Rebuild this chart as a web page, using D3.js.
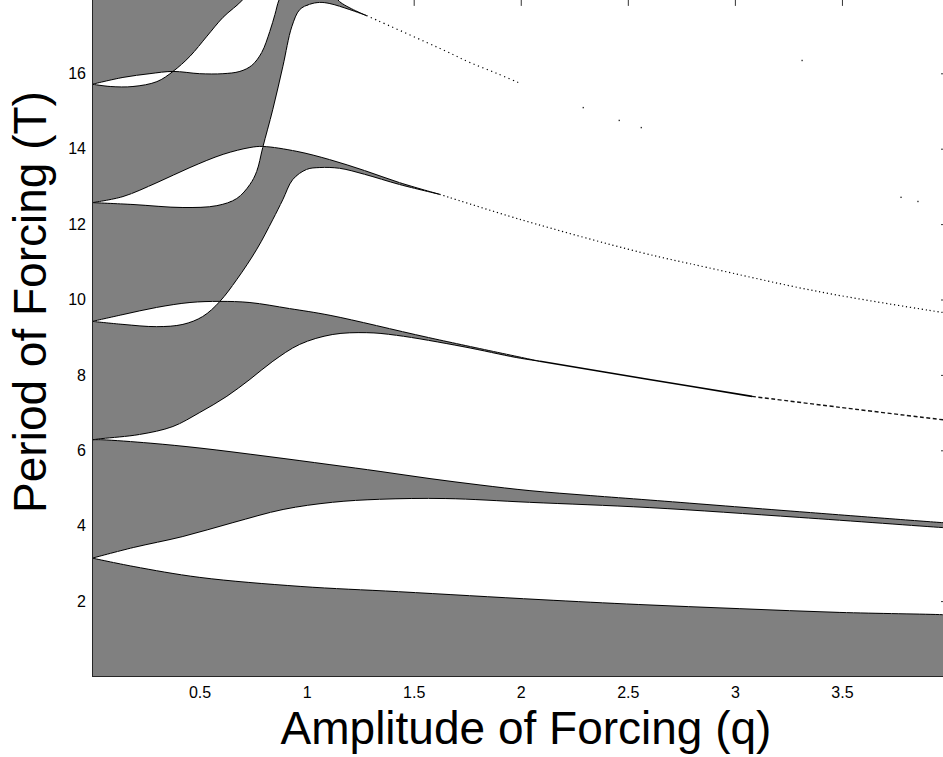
<!DOCTYPE html>
<html>
<head>
<meta charset="utf-8">
<script src="https://cdn.jsdelivr.net/npm/d3@7"></script>
<style>
  body { margin: 0; background: #fff; }
  text { font-family: "Liberation Sans", Arial, sans-serif; fill: #000; }
</style>
</head>
<body>
<div id="chart"></div>
<script>
// tick values
const xTicks = [0.5, 1, 1.5, 2, 2.5, 3, 3.5];
const yTicks = [2, 4, 6, 8, 10, 12, 14, 16];

// tongue boundaries, [q, T]
const tongue1Lower = [[0, 3.14], [0.19, 2.92], [0.50, 2.63], [0.97, 2.39], [1.43, 2.25], [2.09, 2.04],
  [2.55, 1.91], [3.02, 1.80], [3.49, 1.70], [3.97, 1.64], [4.0, 1.63]];
const tongue1Upper = [[0, 3.14], [0.19, 3.42], [0.42, 3.71], [0.655, 4.08], [0.89, 4.43], [1.12, 4.62],
  [1.34, 4.70], [1.65, 4.72], [2.04, 4.62], [2.60, 4.48], [3.30, 4.22], [3.97, 3.95], [4.0, 3.94]];

const tongue2Lower = [[0, 6.28], [0.044, 6.28], [0.269, 6.19], [0.502, 6.06], [0.815, 5.84], [1.109, 5.62],
  [1.343, 5.44], [1.576, 5.25], [1.81, 5.08], [2.043, 4.93], [2.324, 4.80], [2.604, 4.68], [3.258, 4.39],
  [3.972, 4.08], [4.0, 4.07]];
const tongue2Upper = [[0, 6.28], [0.044, 6.31], [0.22, 6.42], [0.375, 6.63], [0.50, 7.00], [0.627, 7.43],
  [0.735, 7.88], [0.842, 8.36], [0.968, 8.81], [1.12, 9.07], [1.28, 9.12], [1.42, 9.05], [1.73, 8.75],
  [1.98, 8.46], [2.09, 8.36]];

const tongue3Upper = [[0, 9.42], [0.142, 9.60], [0.30, 9.79], [0.455, 9.92], [0.595, 9.95], [0.735, 9.92],
  [0.92, 9.76], [1.11, 9.58], [1.57, 8.99], [2.09, 8.36]];
const tongue3Lower = [[0, 9.42], [0.142, 9.34], [0.30, 9.28], [0.422, 9.34], [0.515, 9.55], [0.595, 9.95],
  [0.674, 10.53], [0.767, 11.33], [0.842, 12.12], [0.889, 12.65], [0.935, 13.18], [1.0, 13.45],
  [1.061, 13.50], [1.154, 13.48], [1.271, 13.32], [1.434, 13.05], [1.621, 12.79]];

const tongue4Upper = [[0, 12.57], [0.142, 12.73], [0.301, 13.10], [0.455, 13.50], [0.61, 13.85],
  [0.735, 14.03], [0.795, 14.06], [0.954, 13.93], [1.108, 13.71], [1.271, 13.42], [1.434, 13.10],
  [1.621, 12.79]];
const tongue4Lower = [[0, 12.57], [0.189, 12.52], [0.422, 12.44], [0.581, 12.49], [0.674, 12.68],
  [0.735, 13.05], [0.767, 13.40], [0.795, 14.03], [0.842, 15.04], [0.889, 16.18], [0.931, 17.24],
  [0.968, 17.69], [1.014, 17.83], [1.061, 17.88], [1.108, 17.85], [1.201, 17.69], [1.280, 17.53]];

const tongue5Lower = [[0, 15.71], [0.084, 15.65], [0.189, 15.65], [0.301, 15.78], [0.376, 16.05],
  [0.455, 16.45], [0.534, 16.98], [0.609, 17.48], [0.703, 17.96], [0.74, 18.3]];
const tongue5Upper = [[0, 15.71], [0.142, 15.89], [0.268, 15.99], [0.376, 16.05], [0.501, 15.99],
  [0.609, 15.99], [0.688, 16.05], [0.744, 16.21], [0.79, 16.55], [0.828, 17.11], [0.852, 17.56],
  [0.872, 17.96], [0.92, 18.45], [1.0, 18.6], [1.09, 18.35], [1.154, 17.90], [1.280, 17.53]];

// thin stable bands, too narrow to fill
const ridge2 = [[2.09, 8.36], [2.60, 7.88], [3.08, 7.43], [3.49, 7.14], [4.0, 6.79]];
const ridge2DashFrom = 3.08;
const ridgeA = [[1.621, 12.79], [2.00, 12.12], [2.56, 11.25], [2.87, 10.85], [3.39, 10.21], [3.91, 9.71], [4.0, 9.63]];
const ridgeB = [[1.280, 17.53], [1.653, 16.58], [1.761, 16.29], [1.887, 16.0], [1.999, 15.73]];
const ridgeBDots = [[2.292, 15.09], [2.460, 14.75], [2.563, 14.56], [3.776, 12.71], [3.855, 12.60]];
const strayDots = [[3.314, 16.34]];

const W = 943, H = 757;
const x = d3.scaleLinear().domain([0, 4]).range([92.5, 949]);
const y = d3.scaleLinear().domain([0, 18]).range([676.5, -2.1]);

const svg = d3.select("#chart").append("svg")
  .attr("width", W)
  .attr("height", H);
const defs = svg.append("defs");

const plotRect = sel => sel
  .attr("x", x(0))
  .attr("y", y(18))
  .attr("width", x(4) - x(0))
  .attr("height", y(0) - y(18));

defs.append("clipPath").attr("id", "plot-clip").append("rect").call(plotRect);

const line = d3.line()
  .x(d => x(d[0]))
  .y(d => y(d[1]))
  .curve(d3.curveCatmullRom.alpha(0.5));

const end = a => a[a.length - 1][1];

// closed outline of one unstable tongue: first edge forward, straight corners off the plot, second edge back
function tonguePath(a, corners, b) {
  return line(a) +
    corners.map(p => "L" + x(p[0]) + "," + y(p[1])).join("") +
    line(b.slice().reverse()).replace(/^M/, "L") + "Z";
}

const tail2 = ridge2.slice(1);
const tailA = ridgeA.slice(1);
const tailB = ridgeB.slice(1).concat(ridgeBDots);

const tongues = [
  tonguePath(tongue1Lower, [[4.1, end(tongue1Lower)], [4.1, end(tongue1Upper)]], tongue1Upper),
  tonguePath(tongue2Lower, [[4.1, end(tongue2Lower)], [4.1, end(ridge2)]], tongue2Upper.concat(tail2)),
  tonguePath(tongue3Upper.concat(tail2), [[4.1, end(ridge2)], [4.1, end(ridgeA)]], tongue3Lower.concat(tailA)),
  tonguePath(tongue4Upper.concat(tailA), [[4.1, end(ridgeA)], [4.1, end(tailB)]], tongue4Lower.concat(tailB)),
  tonguePath(tongue5Lower, [[tongue5Lower[tongue5Lower.length - 1][0], 18.9], [4.1, 18.9], [4.1, end(tailB)]],
    tongue5Upper.concat(tailB))
];

// mask: stable (grey) everywhere except inside the tongues
const mask = defs.append("mask")
  .attr("id", "stable")
  .attr("maskUnits", "userSpaceOnUse")
  .attr("x", 0).attr("y", 0).attr("width", W).attr("height", H);
mask.append("rect").call(plotRect).attr("fill", "#fff");
mask.selectAll("path")
  .data(tongues)
  .join("path")
  .attr("d", d => d)
  .attr("fill", "#000")
  .attr("shape-rendering", "crispEdges");

// ticks go under the grey, like the original
const styleAxis = g => {
  g.select(".domain").remove();
  g.selectAll(".tick line").attr("stroke", "#333");
  g.selectAll(".tick text").attr("font-size", 16).attr("font-family", "Liberation Sans, Arial, sans-serif");
};
const noLabels = g => g.selectAll(".tick text").remove();

svg.append("g")
  .attr("transform", "translate(0," + y(0) + ")")
  .call(d3.axisBottom(x).tickValues(xTicks).tickFormat(d3.format("")).tickSizeInner(-8).tickSizeOuter(0).tickPadding(10))
  .call(styleAxis);
svg.append("g")
  .attr("transform", "translate(" + x(0) + ",0)")
  .call(d3.axisLeft(y).tickValues(yTicks).tickFormat(d3.format("")).tickSizeInner(-8).tickSizeOuter(0).tickPadding(6.5))
  .call(styleAxis);
svg.append("g")
  .attr("transform", "translate(0," + y(18) + ")")
  .call(d3.axisTop(x).tickValues(xTicks).tickSizeInner(-8).tickSizeOuter(0))
  .call(styleAxis)
  .call(noLabels);
svg.append("g")
  .attr("transform", "translate(" + x(4) + ",0)")
  .call(d3.axisRight(y).tickValues(yTicks).tickSizeInner(-8).tickSizeOuter(0))
  .call(styleAxis)
  .call(noLabels);

svg.append("rect")
  .call(plotRect)
  .attr("fill", "#808080")
  .attr("mask", "url(#stable)")
  .attr("shape-rendering", "crispEdges");

const plot = svg.append("g").attr("clip-path", "url(#plot-clip)");

const edges = [tongue1Lower, tongue1Upper, tongue2Lower, tongue2Upper, tongue3Upper, tongue3Lower,
  tongue4Upper, tongue4Lower, tongue5Lower, tongue5Upper];
plot.selectAll("path.edge")
  .data(edges)
  .join("path")
  .attr("class", "edge")
  .attr("d", line)
  .attr("fill", "none")
  .attr("stroke", "#000")
  .attr("stroke-width", 1);

plot.append("path")
  .attr("d", line(ridge2.filter(d => d[0] <= ridge2DashFrom)))
  .attr("fill", "none")
  .attr("stroke", "#000")
  .attr("stroke-width", 1.6);
plot.append("path")
  .attr("d", line(ridge2.filter(d => d[0] >= ridge2DashFrom)))
  .attr("fill", "none")
  .attr("stroke", "#111")
  .attr("stroke-width", 1.4)
  .attr("stroke-dasharray", "4,2.5");

plot.append("path")
  .attr("d", line(ridgeA))
  .attr("fill", "none")
  .attr("stroke", "#000")
  .attr("stroke-width", 1.2)
  .attr("stroke-dasharray", "1.2,2.8");
plot.append("path")
  .attr("d", line(ridgeB))
  .attr("fill", "none")
  .attr("stroke", "#000")
  .attr("stroke-width", 1.2)
  .attr("stroke-dasharray", "1.2,3.5");

plot.selectAll("rect.dot")
  .data(ridgeBDots.concat(strayDots))
  .join("rect")
  .attr("class", "dot")
  .attr("x", d => x(d[0]) - 0.7)
  .attr("y", d => y(d[1]) - 0.7)
  .attr("width", 1.4)
  .attr("height", 1.4)
  .attr("fill", "#333");

// axes box
svg.append("rect")
  .call(plotRect)
  .attr("fill", "none")
  .attr("stroke", "#262626")
  .attr("stroke-width", 1);

svg.append("text")
  .attr("x", 526)
  .attr("y", 744)
  .attr("text-anchor", "middle")
  .attr("font-size", 46)
  .text("Amplitude of Forcing (q)");

svg.append("text")
  .attr("transform", "translate(46,302) rotate(-90)")
  .attr("text-anchor", "middle")
  .attr("font-size", 46)
  .text("Period of Forcing (T)");
</script>
</body>
</html>
